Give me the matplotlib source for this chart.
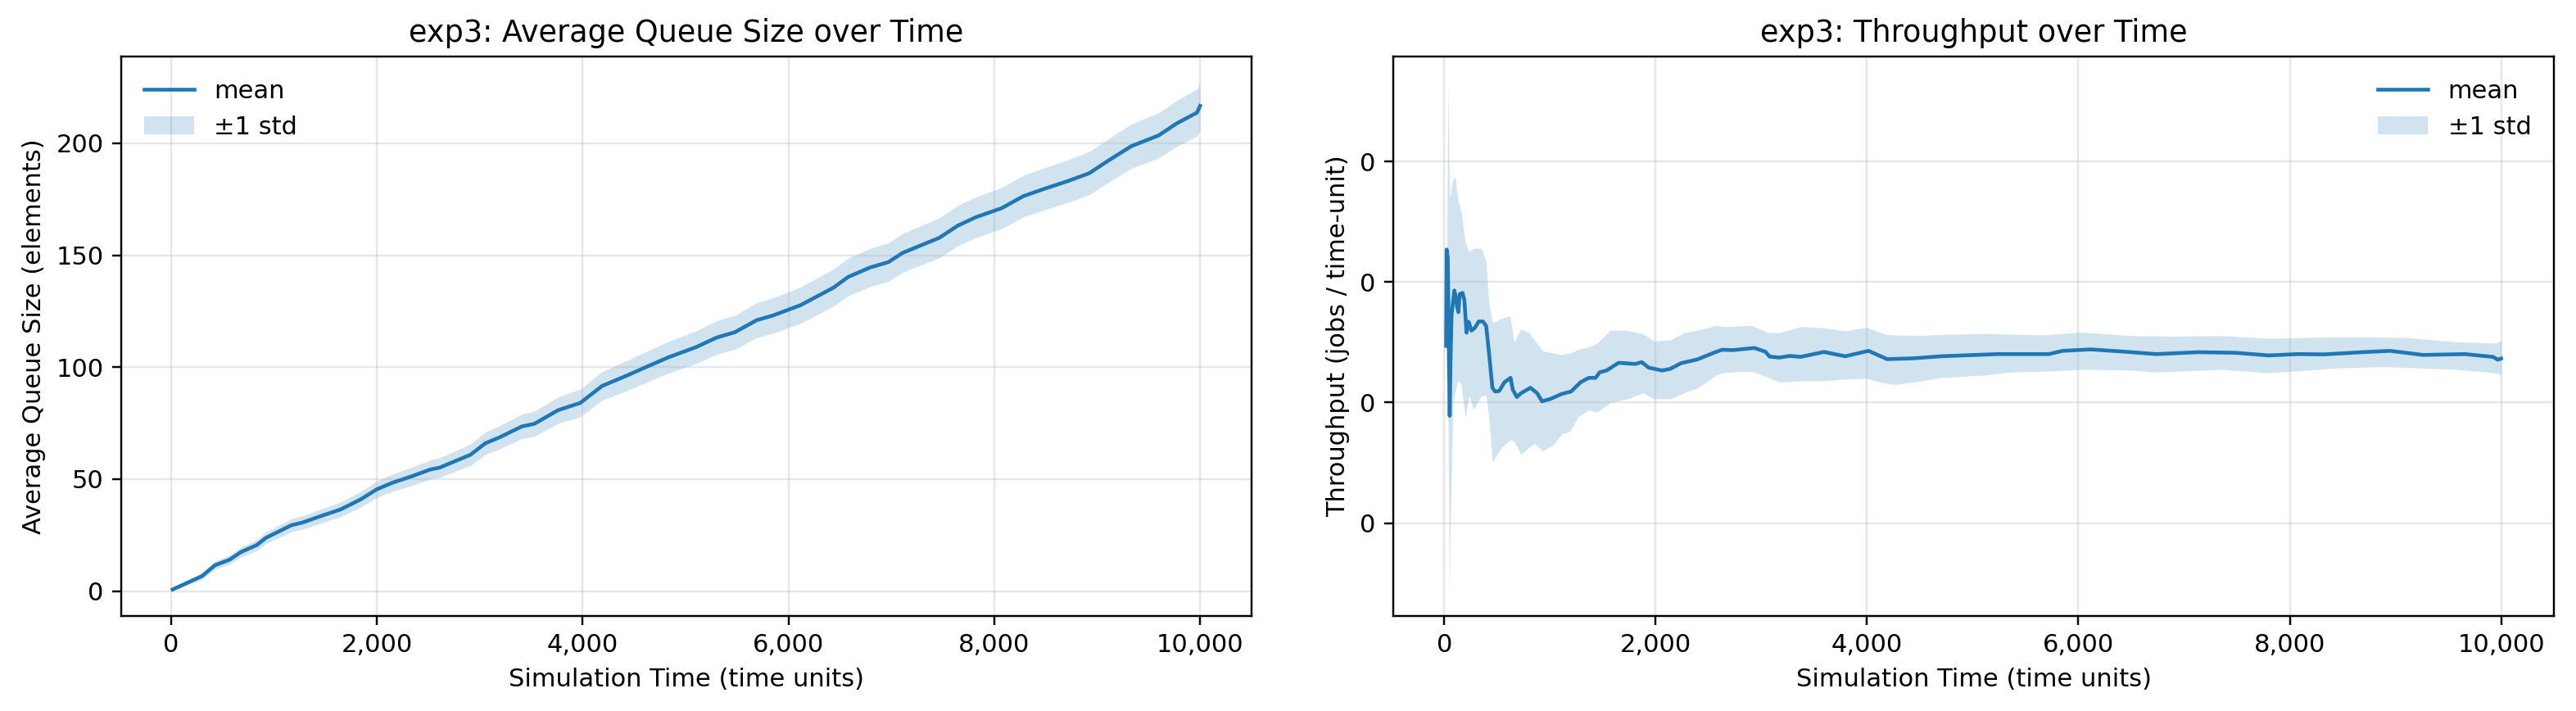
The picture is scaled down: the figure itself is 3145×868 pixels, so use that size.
import numpy as np
import matplotlib
matplotlib.use("Agg")
import matplotlib.pyplot as plt
from matplotlib.ticker import StrMethodFormatter

# --- exp3 queue size ---
q_time = [16, 302, 426, 569, 675, 835, 924, 1170, 1278, 1438, 1651, 1845, 2002,
          2147, 2343, 2521, 2609, 2911, 3054, 3195, 3408, 3531, 3762, 3976, 4189,
          4437, 4614, 4829, 5105, 5301, 5479, 5692, 5851, 6118, 6437, 6580, 6792,
          6970, 7112, 7467, 7645, 7822, 8071, 8283, 8496, 8708, 8922, 9100, 9331,
          9597, 9774, 9970, 10000]
q_mean = [0.7, 6.7, 11.5, 14.0, 17.3, 20.6, 23.8, 29.4, 30.6, 33.2, 36.5, 41.0, 45.5,
          48.3, 51.3, 54.3, 55.1, 60.9, 66.0, 68.7, 73.5, 74.7, 80.8, 84.0, 91.6,
          96.4, 100.0, 104.3, 109.0, 113.2, 115.6, 121.0, 123.1, 127.7, 135.5, 140.3, 144.5,
          146.9, 151.1, 157.8, 163.2, 167.0, 171.0, 176.4, 179.8, 183.0, 186.6, 192.0, 198.7,
          203.5, 208.9, 213.7, 216.7]
q_std = [0.5, 1.5, 1.8, 2.0, 2.2, 2.5, 2.6, 2.9, 3.0, 3.1, 3.3, 3.5, 3.7,
         3.9, 4.1, 4.3, 4.4, 4.8, 5.0, 5.2, 5.5, 5.6, 5.9, 6.2, 6.4,
         6.7, 6.9, 7.1, 7.3, 7.5, 7.6, 7.8, 7.9, 8.1, 8.3, 8.4, 8.5,
         8.6, 8.7, 8.9, 9.0, 9.1, 9.2, 9.3, 9.4, 9.5, 9.6, 9.7, 9.9,
         10.1, 10.3, 10.5, 10.7]

# --- exp3 throughput ---
thr_time = [17, 22, 33, 51, 60, 69, 95, 113, 120, 133, 146, 172, 190, 210, 231, 257,
            288, 326, 365, 396, 421, 455, 480, 519, 570, 627, 648, 686, 725, 815, 879,
            925, 1007, 1110, 1200, 1290, 1367, 1431, 1470, 1535, 1650, 1805, 1869, 1933,
            2061, 2139, 2241, 2395, 2550, 2627, 2730, 2935, 3039, 3077, 3167, 3270, 3372,
            3593, 3793, 4014, 4191, 4435, 4700, 5232, 5719, 5851, 6117, 6471, 6737, 7135,
            7489, 7799, 8065, 8330, 8684, 8950, 9260, 9658, 9924, 9968, 10000]
thr_mean = [0.247, 0.327, 0.320, 0.189, 0.240, 0.273, 0.293, 0.2856, 0.280, 0.275, 0.290,
            0.291, 0.285, 0.258, 0.267, 0.2597, 0.2618, 0.2673, 0.2673, 0.2636, 0.2429,
            0.2123, 0.2092, 0.2096, 0.2169, 0.2205, 0.2107, 0.2046, 0.2077, 0.2123, 0.2077,
            0.2010, 0.2031, 0.2071, 0.2092, 0.2169, 0.2205, 0.2205, 0.2251, 0.2266, 0.2330,
            0.2320, 0.2335, 0.2290, 0.2266, 0.2280, 0.2327, 0.2358, 0.2413, 0.2438, 0.2435,
            0.2453, 0.2422, 0.2382, 0.2373, 0.2387, 0.2379, 0.2420, 0.2384, 0.2429, 0.2360,
            0.2367, 0.2384, 0.2402, 0.2402, 0.2429, 0.2441, 0.2420, 0.2402, 0.2418, 0.2413,
            0.2391, 0.2402, 0.2400, 0.2418, 0.2429, 0.2395, 0.2402, 0.2379, 0.2356, 0.2365]
band_time = [18, 36, 49, 56, 69, 82, 103, 128, 159, 198, 236, 275, 352, 396, 421, 455,
             480, 545, 622, 660, 725, 802, 853, 930, 1033, 1110, 1188, 1265, 1367, 1444,
             1573, 1727, 1882, 1985, 2139, 2267, 2396, 2576, 2653, 2910, 3064, 3167, 3372,
             3593, 3793, 3992, 4169, 4258, 4524, 4700, 5143, 5365, 5675, 6029, 6471, 6737,
             6914, 7357, 7799, 8463, 8906, 9128, 9570, 9946, 10000]
thr_lo = [0.230, 0.180, 0.044, 0.096, 0.148, 0.200, 0.209, 0.218, 0.215, 0.188, 0.206,
          0.194, 0.206, 0.206, 0.188, 0.151, 0.154, 0.163, 0.169, 0.168, 0.157, 0.163,
          0.166, 0.160, 0.165, 0.174, 0.176, 0.188, 0.194, 0.192, 0.200, 0.203, 0.208,
          0.203, 0.203, 0.208, 0.212, 0.223, 0.225, 0.226, 0.221, 0.217, 0.218, 0.218,
          0.2195, 0.220, 0.216, 0.215, 0.218, 0.2207, 0.223, 0.2253, 0.226, 0.2275, 0.227,
          0.2253, 0.226, 0.2275, 0.2246, 0.2287, 0.2298, 0.229, 0.2275, 0.2246, 0.2235]
thr_hi = [0.270, 0.466, 0.371, 0.371, 0.380, 0.385, 0.387, 0.368, 0.359, 0.333, 0.325,
          0.328, 0.328, 0.316, 0.283, 0.267, 0.267, 0.270, 0.272, 0.250, 0.261, 0.258,
          0.252, 0.243, 0.241, 0.240, 0.241, 0.244, 0.246, 0.249, 0.260, 0.260, 0.257,
          0.251, 0.252, 0.258, 0.260, 0.264, 0.263, 0.264, 0.258, 0.258, 0.263, 0.262,
          0.2595, 0.2625, 0.2566, 0.256, 0.2557, 0.2565, 0.2573, 0.2567, 0.2561, 0.2584,
          0.2557, 0.2552, 0.255, 0.2555, 0.2533, 0.2545, 0.2542, 0.2538, 0.2504, 0.2493, 0.2515]

q_time = np.array(q_time)
q_mean = np.array(q_mean)
q_std = np.array(q_std)

fig = plt.figure(figsize=(3145 / 220, 868 / 220), dpi=220)
ax1 = fig.add_axes([0.0471, 0.1336, 0.4858 - 0.0471, 0.9205 - 0.1336])
ax2 = fig.add_axes([0.5409, 0.1336, 0.9914 - 0.5409, 0.9205 - 0.1336])

# left: queue size
ax1.plot(q_time, q_mean, color="tab:blue", lw=1.5, label="mean")
ax1.fill_between(q_time, q_mean - q_std, q_mean + q_std, color="tab:blue", alpha=0.2,
                 linewidth=0, label="±1 std")
ax1.set_title("exp3: Average Queue Size over Time")
ax1.set_xlabel("Simulation Time (time units)")
ax1.set_ylabel("Average Queue Size (elements)")
ax1.legend(loc="upper left", frameon=False)

# right: throughput
ax2.plot(thr_time, thr_mean, color="tab:blue", lw=1.5, label="mean")
ax2.fill_between(band_time, thr_lo, thr_hi, color="tab:blue", alpha=0.2,
                 linewidth=0, label="±1 std")
ax2.set_title("exp3: Throughput over Time")
ax2.set_xlabel("Simulation Time (time units)")
ax2.set_ylabel("Throughput (jobs / time-unit)")
ax2.legend(loc="upper right", frameon=False)

for ax in (ax1, ax2):
    ax.grid(True, alpha=0.3)
    ax.xaxis.set_major_formatter(StrMethodFormatter("{x:,.0f}"))
    ax.yaxis.set_major_formatter(StrMethodFormatter("{x:,.0f}"))

fig.savefig("out.png", dpi=220)
